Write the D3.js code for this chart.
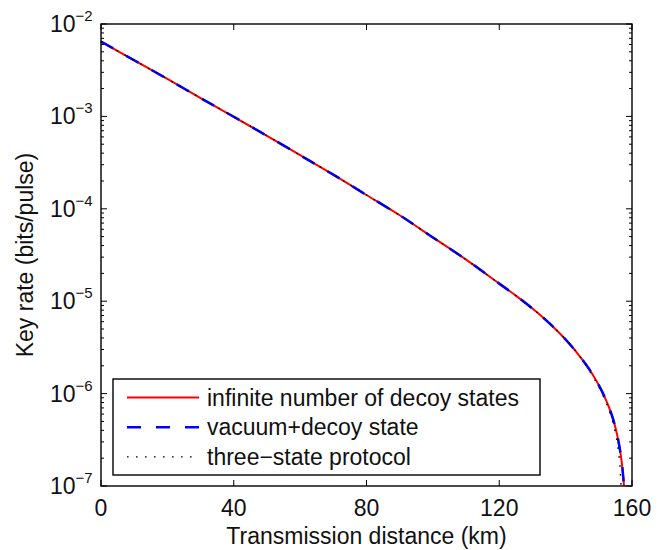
<!DOCTYPE html>
<html>
<head>
<meta charset="utf-8">
<script src="https://cdn.jsdelivr.net/npm/d3@7"></script>
<style>
  body { margin: 0; background: white; }
  text { font-family: "Liberation Sans", Arial, Helvetica, sans-serif; fill: #111; }
</style>
</head>
<body>
<svg width="669" height="550"></svg>
<script>
// distances (km) and key rates (bits/pulse)
const distance = [0, 10, 20, 30, 40, 50, 60, 70, 80, 90, 100, 110, 120, 125, 130, 135, 140, 145, 148, 151, 153, 154, 155, 156, 156.5, 157, 157.6]
const rateInfinite = [6.46e-3, 4.05e-3, 2.54e-3, 1.58e-3, 9.91e-4, 6.17e-4, 3.80e-4, 2.34e-4, 1.41e-4, 8.51e-5, 4.90e-5, 2.82e-5, 1.55e-5, 1.15e-5, 8.32e-6, 5.82e-6, 3.85e-6, 2.34e-6, 1.64e-6, 1.05e-6, 7.21e-7, 5.73e-7, 4.30e-7, 2.94e-7, 2.31e-7, 1.69e-7, 1.0e-7]
const rateVacuum = [6.46e-3, 4.05e-3, 2.54e-3, 1.58e-3, 9.91e-4, 6.17e-4, 3.80e-4, 2.34e-4, 1.41e-4, 8.51e-5, 4.90e-5, 2.82e-5, 1.55e-5, 1.15e-5, 8.32e-6, 5.82e-6, 3.85e-6, 2.34e-6, 1.64e-6, 1.05e-6, 7.21e-7, 5.73e-7, 4.30e-7, 2.94e-7, 2.31e-7, 1.69e-7, 1.0e-7]
const distanceThree = [0, 10, 20, 30, 40, 50, 60, 70, 80, 90, 100, 110, 120, 125, 130, 135, 140, 145, 148, 151, 153, 154, 155, 155.7, 156.1, 156.5, 156.7]
const rateThree = [6.46e-3, 4.05e-3, 2.54e-3, 1.58e-3, 9.91e-4, 6.17e-4, 3.80e-4, 2.34e-4, 1.41e-4, 8.51e-5, 4.90e-5, 2.82e-5, 1.55e-5, 1.15e-5, 8.32e-6, 5.82e-6, 3.85e-6, 2.34e-6, 1.58e-6, 1.0e-6, 6.76e-7, 5.25e-7, 3.80e-7, 2.75e-7, 2.09e-7, 1.38e-7, 1.0e-7]

const xTicks = [0, 40, 80, 120, 160]
const yExponents = [-2, -3, -4, -5, -6, -7]
const legendLabels = ["infinite number of decoy states", "vacuum+decoy state", "three\u2212state protocol"]

let svg = d3.select("svg")
let pLeft = 101, pRight = 632, pTop = 24, pBottom = 486

let x = d3.scaleLinear().domain([0, 160]).range([pLeft, pRight])
let y = d3.scaleLog().domain([1e-7, 1e-2]).range([pBottom, pTop])

let series = [
    { xs: distance, ys: rateInfinite, color: "#ff0000", width: 2, dash: null },
    { xs: distance, ys: rateVacuum, color: "#0000ff", width: 2.5, dash: "14,15" },
    { xs: distanceThree, ys: rateThree, color: "#000", width: 1.4, dash: "1.6,7.4" }
]

let line = d3.line()
    .x((d) => {return x(d[0])})
    .y((d) => {return y(d[1])})
    .curve(d3.curveMonotoneX)

let plot = svg.append("g")

plot.selectAll("path.curve")
    .data(series)
    .join("path")
    .attr("class", "curve")
    .attr("fill", "none")
    .attr("stroke", (d) => {return d.color})
    .attr("stroke-width", (d) => {return d.width})
    .attr("stroke-dasharray", (d) => {return d.dash})
    .attr("d", (d) => {return line(d.xs.map((v, i) => [v, d.ys[i]]))})

// ticks, inward on all four sides
let minor = []
yExponents.slice(1).forEach((e) => {
    for (let k = 2; k <= 9; k++) minor.push(k * Math.pow(10, e))
})
let major = yExponents.map((e) => Math.pow(10, e))

let ticks = svg.append("g").attr("stroke", "#000").attr("stroke-width", 1)

xTicks.forEach((t) => {
    ticks.append("line").attr("x1", x(t)).attr("x2", x(t)).attr("y1", pBottom).attr("y2", pBottom - 6)
    ticks.append("line").attr("x1", x(t)).attr("x2", x(t)).attr("y1", pTop).attr("y2", pTop + 6)
})
major.forEach((t) => {
    ticks.append("line").attr("x1", pLeft).attr("x2", pLeft + 6).attr("y1", y(t)).attr("y2", y(t))
    ticks.append("line").attr("x1", pRight).attr("x2", pRight - 6).attr("y1", y(t)).attr("y2", y(t))
})
minor.forEach((t) => {
    ticks.append("line").attr("x1", pLeft).attr("x2", pLeft + 3).attr("y1", y(t)).attr("y2", y(t))
    ticks.append("line").attr("x1", pRight).attr("x2", pRight - 3).attr("y1", y(t)).attr("y2", y(t))
})

svg.append("rect")
    .attr("x", pLeft).attr("y", pTop)
    .attr("width", pRight - pLeft).attr("height", pBottom - pTop)
    .attr("fill", "none").attr("stroke", "#000").attr("stroke-width", 1.4)

// tick labels
svg.selectAll("text.xlab")
    .data(xTicks)
    .join("text")
    .attr("class", "xlab")
    .attr("x", (d) => {return x(d)})
    .attr("y", pBottom + 30)
    .attr("text-anchor", "middle")
    .attr("font-size", "23px")
    .text((d) => {return d})

let ylab = svg.selectAll("text.ylab")
    .data(yExponents)
    .join("text")
    .attr("class", "ylab")
    .attr("x", 50)
    .attr("y", (d) => {return y(Math.pow(10, d)) + 8})
    .attr("font-size", "23px")
ylab.append("tspan").text("10")
ylab.append("tspan")
    .attr("dy", -11)
    .attr("font-size", "15px")
    .text((d) => {return "\u2212" + Math.abs(d)})

svg.append("text")
    .attr("x", (pLeft + pRight) / 2)
    .attr("y", 544)
    .attr("text-anchor", "middle")
    .attr("font-size", "23px")
    .text("Transmission distance (km)")

svg.append("text")
    .attr("transform", "translate(33," + (pTop + pBottom) / 2 + ") rotate(-90)")
    .attr("text-anchor", "middle")
    .attr("font-size", "23px")
    .text("Key rate (bits/pulse)")

// legend
let legend = svg.append("g")
legend.append("rect")
    .attr("x", 113).attr("y", 379)
    .attr("width", 427).attr("height", 96)
    .attr("fill", "white").attr("stroke", "#000").attr("stroke-width", 1.4)

let rows = legend.selectAll("g.row")
    .data(series)
    .join("g")
    .attr("class", "row")
    .attr("transform", (d, i) => {return "translate(0," + (397.5 + i * 29.7) + ")"})

rows.append("line")
    .attr("x1", 127).attr("x2", 199)
    .attr("stroke", (d) => {return d.color})
    .attr("stroke-width", (d) => {return d.width})
    .attr("stroke-dasharray", (d) => {return d.dash})

rows.append("text")
    .attr("x", 207)
    .attr("y", 8)
    .attr("font-size", "23px")
    .text((d, i) => {return legendLabels[i]})
</script>
</body>
</html>
